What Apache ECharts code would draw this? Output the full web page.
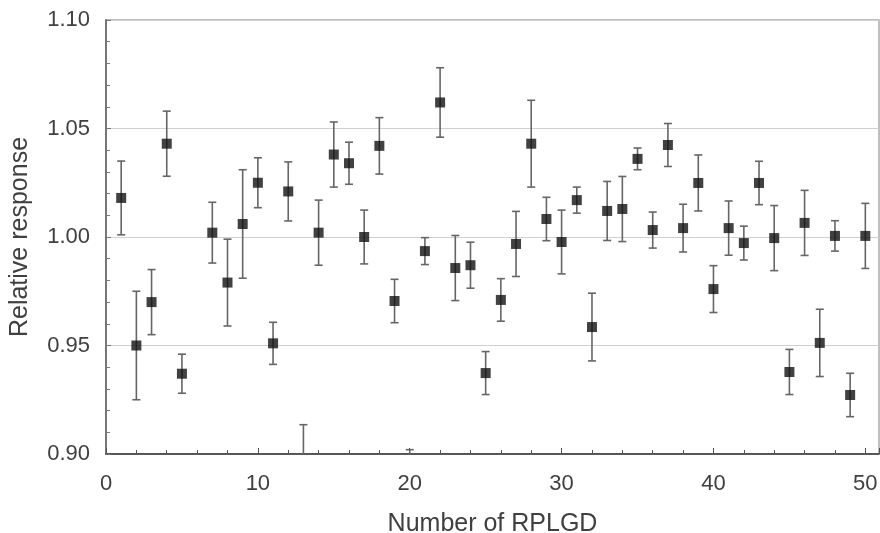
<!DOCTYPE html>
<html>
<head>
<meta charset="utf-8">
<script src="https://cdn.jsdelivr.net/npm/echarts@6/dist/echarts.min.js"></script>
<style>
html,body{margin:0;padding:0;background:#fff;}
#chart{width:880px;height:533px;}
</style>
</head>
<body>
<div id="chart"></div>
<script>
// RPLGD number
const rplgd = [1,2,3,4,5,7,8,9,10,11,12,13,14,15,16,17,18,19,20,21,22,23,24,25,26,27,28,29,30,31,32,33,34,35,36,37,38,39,40,41,42,43,44,45,46,47,48,49,50];
// relative response (mean)
const response = [1.018,0.950,0.970,1.043,0.937,1.002,0.979,1.006,1.025,0.951,1.021,0.896,1.002,1.038,1.034,1.000,1.042,0.9705,0.892,0.9935,1.062,0.9857,0.987,0.9373,0.971,0.9968,1.043,1.0083,0.9977,1.017,0.9585,1.012,1.0129,1.036,1.0032,1.0424,1.0041,1.0249,0.976,1.0041,0.9972,1.0249,0.9995,0.9378,1.0065,0.9512,1.0005,0.9272,1.0005];
// error (half-width of bar)
const errors = [0.017,0.025,0.015,0.015,0.009,0.014,0.020,0.025,0.0115,0.0097,0.0136,0.0175,0.015,0.015,0.0097,0.0124,0.013,0.010,0.010,0.0062,0.016,0.015,0.0106,0.0099,0.0098,0.015,0.020,0.010,0.0147,0.006,0.0156,0.0136,0.015,0.005,0.0083,0.0099,0.011,0.0129,0.0108,0.0125,0.0078,0.010,0.015,0.0104,0.015,0.0155,0.007,0.010,0.015];
const xTickLabels = [0,10,20,30,40,50];
const yTickLabels = ['0.90','0.95','1.00','1.05','1.10'];

const pts = rplgd.map((x,i)=>[x,response[i]]);
const bars = rplgd.map((x,i)=>[x,response[i]-errors[i],response[i]+errors[i]]);

const chart = echarts.init(document.getElementById('chart'));
const font = 'Liberation Sans, Arial, sans-serif';
chart.setOption({
  animation:false,
  grid:{left:106,right:1,top:20,bottom:79,show:true,borderColor:'#aaa',borderWidth:1.5,containLabel:false,outerBoundsMode:'none'},
  xAxis:{
    type:'value',min:0,max:50.9,interval:10,
    name:'Number of RPLGD',nameLocation:'middle',nameGap:58,
    nameTextStyle:{fontSize:25,color:'#404040',fontFamily:font},
    axisLine:{show:true,onZero:false,lineStyle:{color:'#333',width:1.5}},
    axisTick:{show:true,inside:true,length:6,lineStyle:{color:'#555'}},
    minorTick:{show:true,splitNumber:5,length:4,lineStyle:{color:'#555'}},
    splitLine:{show:false},
    axisLabel:{fontSize:22,color:'#404040',fontFamily:font,margin:19,
      formatter:v=>xTickLabels.indexOf(v)>=0?String(v):''}
  },
  yAxis:{
    type:'value',min:0.90,max:1.10,interval:0.05,
    name:'Relative response',nameLocation:'middle',nameGap:73,
    nameTextStyle:{fontSize:25,color:'#404040',fontFamily:font},
    axisLine:{show:true,lineStyle:{color:'#777',width:2}},
    axisTick:{show:true,inside:true,length:5,lineStyle:{color:'#777'}},
    minorTick:{show:true,splitNumber:5,length:4,lineStyle:{color:'#777'}},
    splitLine:{show:true,lineStyle:{color:'#d0d0d0',width:1.2}},
    axisLabel:{fontSize:22,color:'#404040',fontFamily:font,margin:16,
      formatter:v=>{const s=v.toFixed(2);return yTickLabels.indexOf(s)>=0?s:'';}}
  },
  series:[
    {
      type:'custom',clip:true,data:bars,z:2,
      renderItem:(params,api)=>{
        const x=api.value(0);
        const lo=api.coord([x,api.value(1)]);
        const hi=api.coord([x,api.value(2)]);
        const w=4;
        const st={stroke:'#666',lineWidth:1.6};
        return {type:'group',children:[
          {type:'line',shape:{x1:lo[0],y1:lo[1],x2:hi[0],y2:hi[1]},style:st},
          {type:'line',shape:{x1:lo[0]-w,y1:lo[1],x2:lo[0]+w,y2:lo[1]},style:st},
          {type:'line',shape:{x1:hi[0]-w,y1:hi[1],x2:hi[0]+w,y2:hi[1]},style:st}
        ]};
      }
    },
    {
      type:'scatter',data:pts,symbol:'rect',symbolSize:10,clip:true,z:3,
      itemStyle:{color:'#111'}
    }
  ]
});
</script>
</body>
</html>
